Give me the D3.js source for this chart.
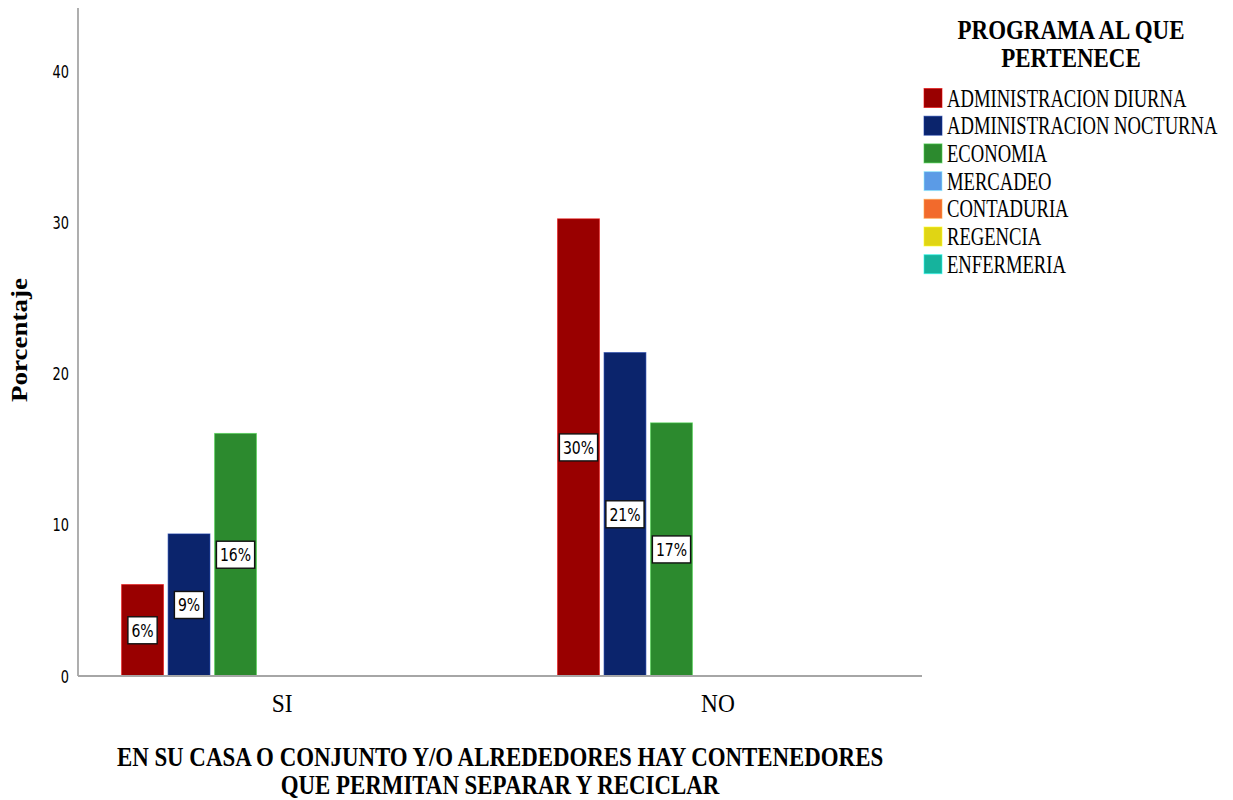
<!DOCTYPE html>
<html>
<head>
<meta charset="utf-8">
<script src="https://cdn.jsdelivr.net/npm/d3@7"></script>
<style>
  html, body { margin: 0; padding: 0; background: #fff; }
  svg { display: block; }
</style>
</head>
<body>
<svg id="chart" width="1233" height="800"></svg>
<script>
// ---------- data ----------
const categories = ["SI", "NO"];
const programs = [
  "ADMINISTRACION DIURNA",
  "ADMINISTRACION NOCTURNA",
  "ECONOMIA",
  "MERCADEO",
  "CONTADURIA",
  "REGENCIA",
  "ENFERMERIA"
];
const programColors = ["#990000", "#0b246c", "#2c8a2e", "#5b9be6", "#f26a2c", "#e0d514", "#16b39d"];
// percentage per category (SI, NO) for each program
const adminDiurna   = [6.05, 30.25];
const adminNocturna = [9.4, 21.4];
const economia      = [16.05, 16.75];
const mercadeo      = [0, 0];
const contaduria    = [0, 0];
const regencia      = [0, 0];
const enfermeria    = [0, 0];
const yTicks = [0, 10, 20, 30, 40];
const yMax = 44.2;
const yTitle = "Porcentaje";
const xTitleLines = ["EN SU CASA O CONJUNTO Y/O ALREDEDORES HAY CONTENEDORES", "QUE PERMITAN SEPARAR Y RECICLAR"];
const legendTitleLines = ["PROGRAMA AL QUE", "PERTENECE"];

const seriesValues = [adminDiurna, adminNocturna, economia, mercadeo, contaduria, regencia, enfermeria];

// ---------- layout ----------
const svg = d3.select("#chart");
const plot = { left: 78, right: 922, top: 8, bottom: 676 };
const SERIF = "'Liberation Serif', 'Times New Roman', serif";
const SANS = "'DejaVu Sans', sans-serif";

const x0 = d3.scaleBand().domain(categories).range([plot.left, plot.right])
  .paddingInner(0.2534).paddingOuter(0.0947);
const x1 = d3.scaleBand().domain(programs).range([0, x0.bandwidth()])
  .paddingInner(0.1).paddingOuter(0.05);
const y = d3.scaleLinear().domain([0, yMax]).range([plot.bottom, plot.top]);
const color = d3.scaleOrdinal().domain(programs).range(programColors);

// helper for (horizontally condensed) text
function txt(parent, x, y, str, o) {
  const g = parent.append("g")
    .attr("transform", `translate(${x},${y}) rotate(${o.rotate || 0}) scale(${o.sx || 1},${o.sy || 1})`);
  return g.append("text")
    .attr("x", 0).attr("y", 0)
    .attr("text-anchor", o.anchor || "start")
    .attr("font-family", o.family || SERIF)
    .attr("font-size", o.size)
    .attr("font-weight", o.weight || "normal")
    .attr("fill", "#000")
    .text(str);
}

// ---------- y axis ----------
const yAxis = d3.axisLeft(y).tickValues(yTicks).tickSize(0).tickPadding(9);
const yg = svg.append("g").attr("transform", `translate(${plot.left},0)`).call(yAxis);
yg.select(".domain").remove();
yg.selectAll(".tick text").remove();
yTicks.forEach(t => {
  txt(svg, plot.left - 9, y(t) + 6.5, String(t), { size: 18, family: SANS, anchor: "end", sx: 0.72 });
});
svg.append("line")
  .attr("x1", plot.left).attr("x2", plot.left)
  .attr("y1", plot.top).attr("y2", plot.bottom)
  .attr("stroke", "#a6a6a6").attr("stroke-width", 1.8);

// ---------- bars ----------
const rows = [];
categories.forEach((c, ci) => {
  programs.forEach((p, pi) => rows.push({ cat: c, prog: p, value: seriesValues[pi][ci] }));
});

const groups = svg.append("g");
groups.selectAll("rect.bar")
  .data(rows.filter(d => d.value > 0))
  .join("rect")
  .attr("class", "bar")
  .attr("x", d => x0(d.cat) + x1(d.prog))
  .attr("width", x1.bandwidth())
  .attr("y", d => y(d.value))
  .attr("height", d => y(0) - y(d.value))
  .attr("fill", d => color(d.prog))
  .attr("stroke", d => d3.color(color(d.prog)).brighter(1.2))
  .attr("stroke-opacity", 0.6)
  .attr("stroke-width", 1);

// ---------- x axis ----------
svg.append("line")
  .attr("x1", plot.left).attr("x2", plot.right)
  .attr("y1", plot.bottom).attr("y2", plot.bottom)
  .attr("stroke", "#a6a6a6").attr("stroke-width", 2);

const xAxis = d3.axisBottom(x0).tickSize(0);
const xg = svg.append("g").attr("transform", `translate(0,${plot.bottom})`).call(xAxis);
xg.select(".domain").remove();
xg.selectAll(".tick text").remove();
categories.forEach(c => {
  txt(svg, x0(c) + x0.bandwidth() / 2, 712, c, { size: 26, anchor: "middle", sx: 0.9 });
});

// ---------- value labels ----------
rows.filter(d => d.value > 0).forEach(d => {
  const cx = x0(d.cat) + x1(d.prog) + x1.bandwidth() / 2;
  const cy = (y(d.value) + y(0)) / 2;
  const label = Math.round(d.value) + "%";
  const g = svg.append("g");
  const rect = g.append("rect");
  const t = txt(g, cx, cy + 6.5, label, { size: 18, family: SANS, anchor: "middle", sx: 0.78 });
  const w = t.node().getComputedTextLength() * 0.78 + 7;
  const h = 27;
  rect.attr("x", cx - w / 2).attr("y", cy - h / 2)
    .attr("width", w).attr("height", h)
    .attr("fill", "#fff").attr("stroke", "#111").attr("stroke-width", 1.4);
});

// ---------- axis titles ----------
txt(svg, 27, 340, yTitle, { size: 27, weight: "bold", anchor: "middle", rotate: -90, sy: 0.85 });
xTitleLines.forEach((line, i) => {
  txt(svg, 500, 766 + i * 28, line, { size: 27, weight: "bold", anchor: "middle", sx: 0.848 });
});

// ---------- legend ----------
legendTitleLines.forEach((line, i) => {
  txt(svg, 1071, 39 + i * 28, line, { size: 27, weight: "bold", anchor: "middle", sx: 0.85 });
});
const legendTop = 98, legendStep = 27.7;
programs.forEach((p, i) => {
  const cy = legendTop + i * legendStep;
  svg.append("rect")
    .attr("x", 924).attr("y", cy - 9.5)
    .attr("width", 18).attr("height", 19)
    .attr("fill", color(p))
    .attr("stroke", d3.color(color(p)).brighter(1.2))
    .attr("stroke-opacity", 0.6)
    .attr("stroke-width", 1);
  txt(svg, 947, cy + 8.5, p, { size: 25, anchor: "start", sx: 0.745 });
});
</script>
</body>
</html>
